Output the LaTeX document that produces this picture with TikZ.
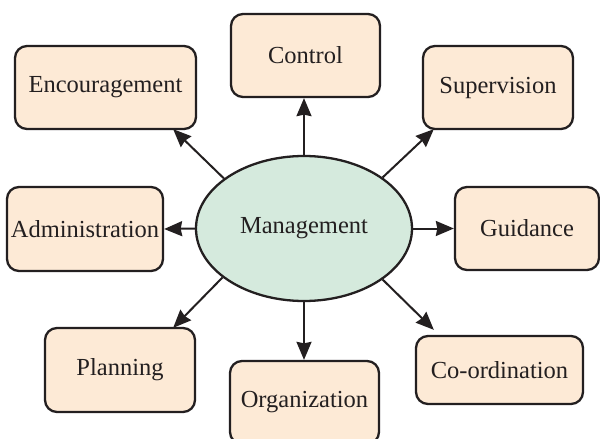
\documentclass[tikz,border=0pt]{standalone}
\usepackage{fontspec}
\setmainfont{Liberation Serif}
\usetikzlibrary{shapes.geometric,arrows.meta}
\definecolor{boxfill}{HTML}{FDEAD6}
\definecolor{ellfill}{HTML}{D5EADD}
\definecolor{ink}{HTML}{231F20}
\begin{document}
\begin{tikzpicture}[x=1pt,y=-1pt,
  box/.style={draw=ink,fill=boxfill,line width=2.3pt,rounded corners=12pt,
    inner sep=0pt,minimum height=83pt,text=ink,
    font=\fontsize{24.5}{28}\selectfont},
  hub/.style={ellipse,draw=ink,fill=ellfill,line width=2.3pt,inner sep=0pt,
    minimum width=216pt,minimum height=145pt,text=ink,
    font=\fontsize{24.5}{28}\selectfont},
  arr/.style={draw=ink,line width=2pt,-{Stealth[length=18pt,width=15pt,inset=1.5pt]}}]
\clip (0,0) rectangle (600,439);
\fill[white] (0,0) rectangle (600,439);
\node[hub] (m) at (304,228.5) {\raisebox{5pt}{Management}};
\node[box,minimum width=181pt] (enc) at (105.5,87.5) {\raisebox{2pt}{Encouragement}};
\node[box,minimum width=149pt] (ctrl) at (305.5,55.5) {Control};
\node[box,minimum width=150pt] (sup) at (498,87.5) {\raisebox{2pt}{Supervision}};
\node[box,minimum width=156pt,minimum height=84pt] (adm) at (85,229) {Administration};
\node[box,minimum width=144pt] (gui) at (527,228.5) {Guidance};
\node[box,minimum width=150pt,minimum height=84pt] (pla) at (120,370) {\raisebox{2pt}{Planning}};
\node[box,minimum width=149pt] (org) at (304.5,402.5) {Organization};
\node[box,minimum width=167pt,minimum height=68pt] (coo) at (499.5,370) {\raisebox{-4pt}{Co-ordination}};
\draw[arr] (m.148) -- ([xshift=-24pt,yshift=1pt]enc.south east);
\draw[arr] (m.north) -- (m.north |- ctrl.south);
\draw[arr] (m.33) -- ([xshift=12pt,yshift=1pt]sup.south west);
\draw[arr] (m.west) -- (adm.east);
\draw[arr] (m.east) -- (gui.west);
\draw[arr] (m.211) -- ([xshift=-23pt,yshift=-1pt]pla.north east);
\draw[arr] (m.south) -- (m.south |- org.north);
\draw[arr] (m.327) -- ([xshift=19pt,yshift=5pt]coo.north west);
\end{tikzpicture}
\end{document}
